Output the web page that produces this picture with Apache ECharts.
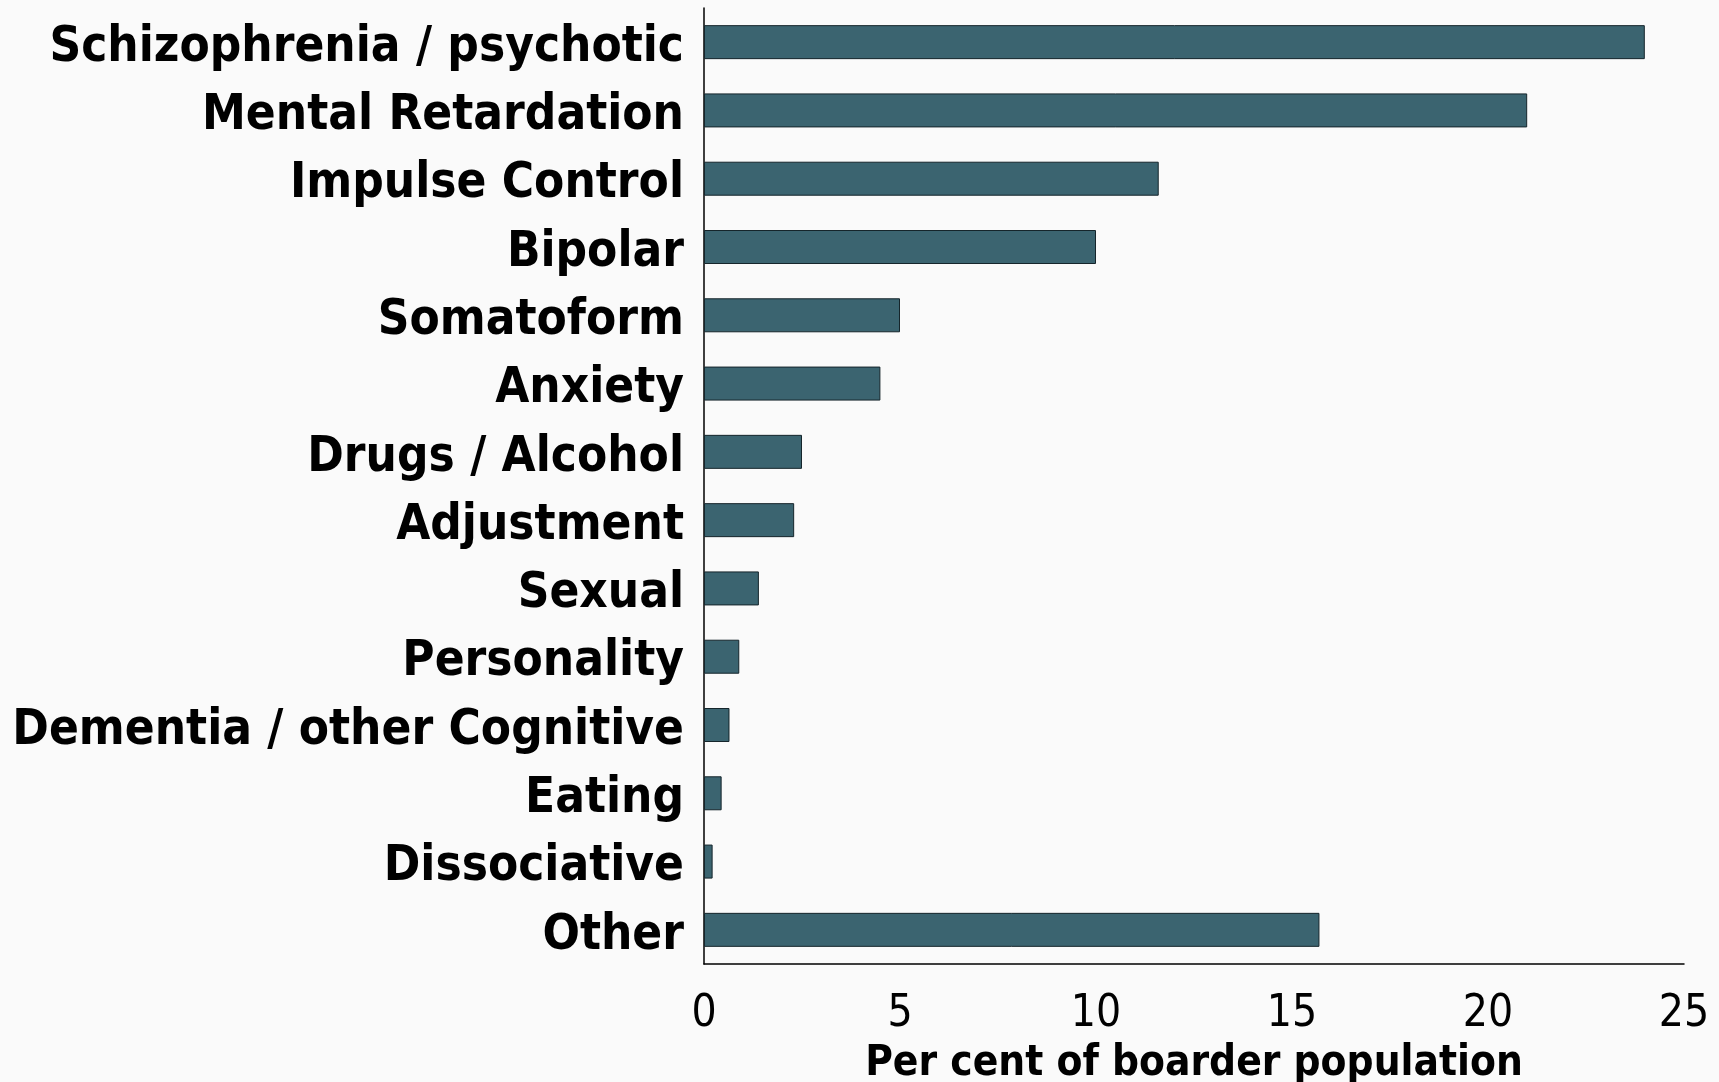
<!DOCTYPE html>
<html>
<head>
<meta charset="utf-8">
<script src="https://cdn.jsdelivr.net/npm/echarts@6/dist/echarts.min.js"></script>
<style>
  html, body { margin: 0; padding: 0; background: #fafafa; }
  #chart { width: 1719px; height: 1082px; }
</style>
</head>
<body>
<div id="chart"></div>
<script>
const categories = [
  'Schizophrenia / psychotic', 'Mental Retardation', 'Impulse Control', 'Bipolar',
  'Somatoform', 'Anxiety', 'Drugs / Alcohol', 'Adjustment', 'Sexual', 'Personality',
  'Dementia / other Cognitive', 'Eating', 'Dissociative', 'Other'
]
const percents = [24, 21, 11.6, 10, 5, 4.5, 2.5, 2.3, 1.4, 0.9, 0.65, 0.45, 0.22, 15.7]
const xTicks = [0, 5, 10, 15, 20, 25]

const narrow = "'Liberation Sans Narrow', 'Arial Narrow', 'DejaVu Sans Condensed', 'Liberation Sans', sans-serif"

const chart = echarts.init(document.getElementById('chart'))
chart.setOption({
  backgroundColor: '#fafafa',
  animation: false,
  grid: { left: 704, right: 35, top: 8, bottom: 118, outerBoundsMode: 'none', containLabel: false },
  xAxis: {
    type: 'value',
    min: xTicks[0],
    max: xTicks[xTicks.length - 1],
    interval: 5,
    name: 'Per cent of boarder population',
    nameLocation: 'middle',
    nameGap: 79,
    nameTextStyle: { fontFamily: narrow, fontWeight: 'bold', fontSize: 42, color: '#000' },
    axisLine: { show: true, lineStyle: { color: '#000', width: 1.5 } },
    axisTick: { show: false },
    splitLine: { show: false },
    axisLabel: { fontFamily: narrow, fontSize: 44, color: '#000', margin: 29 }
  },
  yAxis: {
    type: 'category',
    data: categories,
    inverse: true,
    axisLine: { show: true, lineStyle: { color: '#000', width: 1.5 } },
    axisTick: { show: false },
    axisLabel: {
      margin: 20,
      formatter: v => '{c|' + v + '}',
      rich: {
        c: {
          fontFamily: narrow, fontWeight: 'bold', fontSize: 49, color: '#000',
          padding: [12, 0, 0, 0]
        }
      }
    }
  },
  series: [{
    type: 'bar',
    data: percents,
    barWidth: 34,
    itemStyle: { color: '#3b6470', borderColor: '#15252b', borderWidth: 1 }
  }]
})
</script>
</body>
</html>
